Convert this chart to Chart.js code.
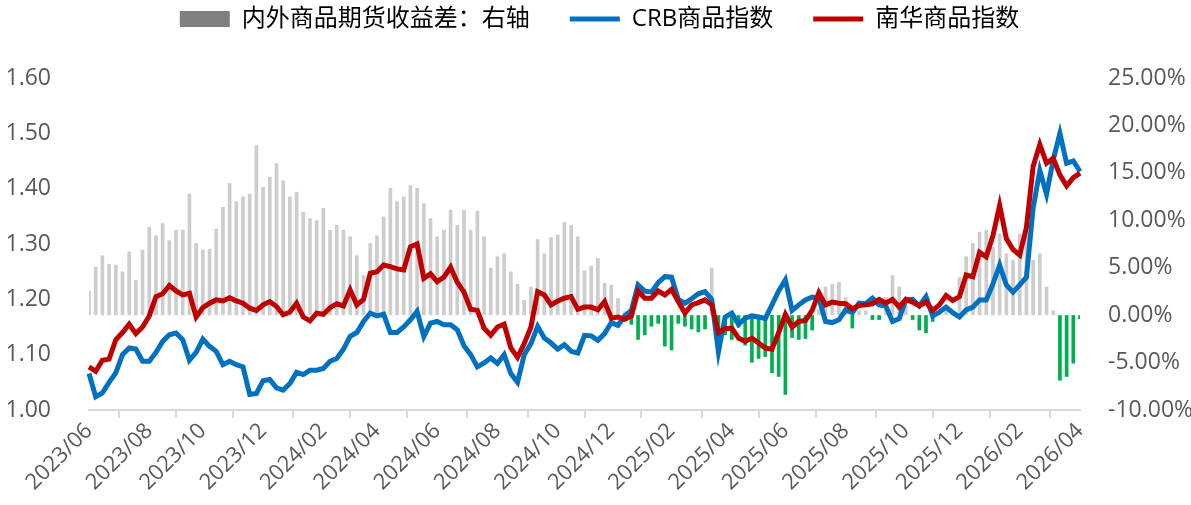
<!DOCTYPE html>
<html lang="zh">
<head>
  <meta charset="UTF-8">
  <title>内外商品期货收益差</title>
  <script src="https://cdn.jsdelivr.net/npm/chart.js"></script>
  <style>
    body {
      margin: 0;
      background: #fff;
    }
    .container {
      width: 1191px;
      height: 505px;
    }
  </style>
</head>
<body>
  <div class="container">
    <canvas id="gap-chart"></canvas>
  </div>

  <script>
    // weekly dates (Friday)
    const weeks = [
      '2023/06/02','2023/06/09','2023/06/16','2023/06/23','2023/06/30','2023/07/07','2023/07/14','2023/07/21','2023/07/28','2023/08/04',
      '2023/08/11','2023/08/18','2023/08/25','2023/09/01','2023/09/08','2023/09/15','2023/09/22','2023/09/29','2023/10/06','2023/10/13',
      '2023/10/20','2023/10/27','2023/11/03','2023/11/10','2023/11/17','2023/11/24','2023/12/01','2023/12/08','2023/12/15','2023/12/22',
      '2023/12/29','2024/01/05','2024/01/12','2024/01/19','2024/01/26','2024/02/02','2024/02/09','2024/02/16','2024/02/23','2024/03/01',
      '2024/03/08','2024/03/15','2024/03/22','2024/03/29','2024/04/05','2024/04/12','2024/04/19','2024/04/26','2024/05/03','2024/05/10',
      '2024/05/17','2024/05/24','2024/05/31','2024/06/07','2024/06/14','2024/06/21','2024/06/28','2024/07/05','2024/07/12','2024/07/19',
      '2024/07/26','2024/08/02','2024/08/09','2024/08/16','2024/08/23','2024/08/30','2024/09/06','2024/09/13','2024/09/20','2024/09/27',
      '2024/10/04','2024/10/11','2024/10/18','2024/10/25','2024/11/01','2024/11/08','2024/11/15','2024/11/22','2024/11/29','2024/12/06',
      '2024/12/13','2024/12/20','2024/12/27','2025/01/03','2025/01/10','2025/01/17','2025/01/24','2025/01/31','2025/02/07','2025/02/14',
      '2025/02/21','2025/02/28','2025/03/07','2025/03/14','2025/03/21','2025/03/28','2025/04/04','2025/04/11','2025/04/18','2025/04/25',
      '2025/05/02','2025/05/09','2025/05/16','2025/05/23','2025/05/30','2025/06/06','2025/06/13','2025/06/20','2025/06/27','2025/07/04',
      '2025/07/11','2025/07/18','2025/07/25','2025/08/01','2025/08/08','2025/08/15','2025/08/22','2025/08/29','2025/09/05','2025/09/12',
      '2025/09/19','2025/09/26','2025/10/03','2025/10/10','2025/10/17','2025/10/24','2025/10/31','2025/11/07','2025/11/14','2025/11/21',
      '2025/11/28','2025/12/05','2025/12/12','2025/12/19','2025/12/26','2026/01/02','2026/01/09','2026/01/16','2026/01/23','2026/01/30',
      '2026/02/06','2026/02/13','2026/02/20','2026/02/27','2026/03/06','2026/03/13','2026/03/20','2026/03/27','2026/04/03'
    ];

    // CRB商品指数 (normalised)
    const crb = [
      1.066, 1.024, 1.031, 1.050, 1.067, 1.100, 1.112, 1.110, 1.088, 1.088,
      1.104, 1.124, 1.136, 1.139, 1.127, 1.090, 1.104, 1.128, 1.115, 1.106,
      1.082, 1.088, 1.082, 1.078, 1.028, 1.030, 1.053, 1.055, 1.040, 1.036,
      1.048, 1.068, 1.064, 1.072, 1.072, 1.075, 1.088, 1.093, 1.110, 1.133,
      1.140, 1.160, 1.175, 1.170, 1.173, 1.140, 1.140, 1.150, 1.163, 1.178,
      1.133, 1.157, 1.160, 1.154, 1.154, 1.145, 1.116, 1.100, 1.078, 1.085,
      1.094, 1.084, 1.100, 1.066, 1.050, 1.100, 1.120, 1.151, 1.130, 1.121,
      1.110, 1.118, 1.106, 1.103, 1.135, 1.134, 1.126, 1.138, 1.158, 1.153,
      1.170, 1.180, 1.226, 1.215, 1.213, 1.230, 1.241, 1.240, 1.200, 1.193,
      1.201, 1.210, 1.214, 1.200, 1.105, 1.168, 1.175, 1.155, 1.166, 1.170,
      1.168, 1.165, 1.190, 1.215, 1.235, 1.180, 1.190, 1.199, 1.204, 1.202,
      1.160, 1.158, 1.163, 1.181, 1.176, 1.193, 1.192, 1.202, 1.190, 1.188,
      1.160, 1.165, 1.199, 1.200, 1.188, 1.205, 1.170, 1.177, 1.186, 1.176,
      1.168, 1.181, 1.186, 1.199, 1.199, 1.228, 1.262, 1.226, 1.213, 1.226,
      1.240, 1.365, 1.433, 1.390, 1.452, 1.500, 1.446, 1.450, 1.431
    ];

    // 南华商品指数 (normalised)
    const nanhua = [
      1.078, 1.070, 1.090, 1.092, 1.127, 1.140, 1.155, 1.138, 1.150, 1.170,
      1.205, 1.210, 1.225, 1.215, 1.208, 1.211, 1.168, 1.185, 1.193, 1.199,
      1.197, 1.203, 1.197, 1.193, 1.184, 1.180, 1.190, 1.196, 1.187, 1.172,
      1.177, 1.193, 1.168, 1.161, 1.175, 1.173, 1.185, 1.192, 1.188, 1.217,
      1.190, 1.200, 1.247, 1.250, 1.262, 1.259, 1.255, 1.253, 1.295, 1.300,
      1.238, 1.246, 1.232, 1.240, 1.258, 1.231, 1.213, 1.182, 1.180, 1.148,
      1.135, 1.150, 1.155, 1.112, 1.095, 1.120, 1.150, 1.214, 1.208, 1.190,
      1.197, 1.202, 1.205, 1.182, 1.186, 1.186, 1.181, 1.196, 1.166, 1.168,
      1.164, 1.170, 1.215, 1.202, 1.202, 1.215, 1.208, 1.218, 1.196, 1.175,
      1.190, 1.194, 1.199, 1.190, 1.140, 1.147, 1.148, 1.130, 1.124, 1.130,
      1.121, 1.112, 1.110, 1.140, 1.173, 1.150, 1.160, 1.162, 1.180, 1.212,
      1.190, 1.195, 1.193, 1.192, 1.183, 1.189, 1.190, 1.192, 1.200, 1.193,
      1.200, 1.186, 1.200, 1.195, 1.188, 1.195, 1.180, 1.190, 1.207, 1.198,
      1.205, 1.244, 1.241, 1.285, 1.277, 1.315, 1.370, 1.310, 1.290, 1.280,
      1.330, 1.440, 1.480, 1.446, 1.455, 1.425, 1.405, 1.420, 1.428
    ];

    // 内外商品期货收益差 (%), right axis
    const gap = [
      2.6, 5.1, 6.3, 5.4, 5.3, 4.6, 6.7, 3.7, 6.9, 9.3,
      8.4, 9.7, 7.9, 9.0, 9.0, 12.8, 7.6, 6.9, 7.0, 9.1,
      11.4, 13.9, 12.0, 12.5, 12.8, 17.9, 13.5, 14.6, 16.0, 14.2,
      12.5, 13.0, 10.9, 10.2, 10.0, 11.3, 9.0, 9.5, 9.0, 8.3,
      6.3, 4.2, 7.6, 8.4, 10.4, 13.4, 12.0, 12.5, 13.7, 13.4,
      11.8, 10.2, 8.3, 9.0, 11.1, 9.5, 11.1, 9.0, 11.0, 8.3,
      5.0, 6.2, 6.5, 4.6, 3.3, 1.6, 3.0, 8.0, 6.5, 8.2,
      8.5, 9.8, 9.5, 8.3, 4.7, 5.2, 6.0, 3.4, 3.2, 1.8,
      0.4, -1.0, -2.6, -2.1, -1.2, -0.9, -3.3, -3.7, -0.9, -1.2,
      -1.5, -1.8, -1.5, 5.0, -3.0, -2.1, -2.6, -1.3, -3.2, -5.0,
      -4.6, -4.4, -6.1, -6.5, -8.4, -2.4, -2.6, -2.5, -1.6, 0.6,
      3.0, 3.3, 3.5, 1.9, -1.4, 0.5, 0.5, -0.5, -0.5, 1.9,
      4.2, 3.0, 1.0, -0.5, -1.6, -1.9, -0.7, 0.3, 1.0, 0.5,
      4.0, 6.2, 7.6, 8.8, 9.0, 7.2, 8.6, 6.5, 5.8, 8.6,
      9.7, 5.8, 6.5, 3.0, 0.5, -6.9, -6.5, -5.1, -0.4
    ];

    const GREY = '#cdcdcd';
    const GREEN = '#00b050';
    const BLUE = '#0070c0';
    const RED = '#c00000';
    const TEXT = '#595959';

    Chart.defaults.font.family = '"Open Sans", "Noto Sans CJK SC", sans-serif';
    Chart.defaults.color = TEXT;

    // show "YYYY/MM" at the week nearest to the 1st of every even month
    function monthTick(label) {
      const [y, m, d] = label.split('/').map(Number);
      const t = new Date(y, m - 1, d);
      const first = new Date(y, m - 1 + (d > 15 ? 1 : 0), 1);
      const diff = Math.abs(t - first) / 86400000;
      if (diff > 3 || (first.getMonth() + 1) % 2 !== 0) return null;
      return first.getFullYear() + '/' + String(first.getMonth() + 1).padStart(2, '0');
    }

    // push the legend up and give it a fixed height
    const legendHeight = {
      id: 'legendHeight',
      beforeInit(chart) {
        const fit = chart.legend.fit;
        chart.legend.fit = function () {
          fit.call(this);
          this.height = 111;
        };
      }
    };

    const ctx = document.getElementById('gap-chart').getContext('2d');
    new Chart(ctx, {
      data: {
        labels: weeks,
        datasets: [
          {
            type: 'bar',
            label: '内外商品期货收益差：右轴',
            data: gap,
            yAxisID: 'y1',
            backgroundColor: gap.map(v => v >= 0 ? GREY : GREEN),
            barPercentage: 0.55,
            categoryPercentage: 1,
            order: 3
          },
          {
            type: 'line',
            label: 'CRB商品指数',
            data: crb,
            yAxisID: 'y',
            borderColor: BLUE,
            borderWidth: 5,
            pointRadius: 0,
            tension: 0,
            order: 2
          },
          {
            type: 'line',
            label: '南华商品指数',
            data: nanhua,
            yAxisID: 'y',
            borderColor: RED,
            borderWidth: 5,
            pointRadius: 0,
            tension: 0,
            order: 1
          }
        ]
      },
      options: {
        responsive: true,
        maintainAspectRatio: false,
        animation: false,
        layout: {
          padding: { top: -33, left: 8, right: 0, bottom: 0 }
        },
        plugins: {
          tooltip: { enabled: false },
          legend: {
            position: 'top',
            labels: {
              usePointStyle: true,
              pointStyleWidth: 50,
              boxWidth: 50,
              boxHeight: 16,
              padding: 40,
              color: TEXT,
              font: { size: 24 },
              generateLabels() {
                return [
                  { text: '内外商品期货收益差：右轴', fillStyle: '#808080', strokeStyle: '#808080', lineWidth: 0, pointStyle: 'rect', datasetIndex: 0 },
                  { text: 'CRB商品指数', fillStyle: BLUE, strokeStyle: BLUE, lineWidth: 5, pointStyle: 'line', datasetIndex: 1 },
                  { text: '南华商品指数', fillStyle: RED, strokeStyle: RED, lineWidth: 5, pointStyle: 'line', datasetIndex: 2 }
                ];
              }
            }
          }
        },
        scales: {
          x: {
            offset: false,
            grid: {
              display: true,
              drawOnChartArea: false,
              drawTicks: true,
              tickLength: 8,
              color: '#d9d9d9',
              lineWidth: 2
            },
            border: { display: true, color: '#d9d9d9', width: 2 },
            ticks: {
              autoSkip: false,
              maxRotation: 45,
              minRotation: 45,
              padding: 0,
              font: { size: 22 },
              callback(value) {
                return monthTick(this.getLabelForValue(value));
              }
            },
            afterFit(scale) { scale.height = 95; }
          },
          y: {
            position: 'left',
            min: 1.0,
            max: 1.6,
            grid: { display: false },
            border: { display: false },
            ticks: {
              stepSize: 0.1,
              padding: 30,
              font: { size: 23 },
              callback: v => v.toFixed(2)
            },
            afterFit(scale) { scale.width = 81; }
          },
          y1: {
            position: 'right',
            min: -10,
            max: 25,
            grid: { display: false },
            border: { display: false },
            ticks: {
              stepSize: 5,
              padding: 20,
              font: { size: 23 },
              callback: v => v.toFixed(2) + '%'
            },
            afterFit(scale) { scale.width = 111; }
          }
        }
      },
      plugins: [legendHeight]
    });
  </script>
</body>
</html>
